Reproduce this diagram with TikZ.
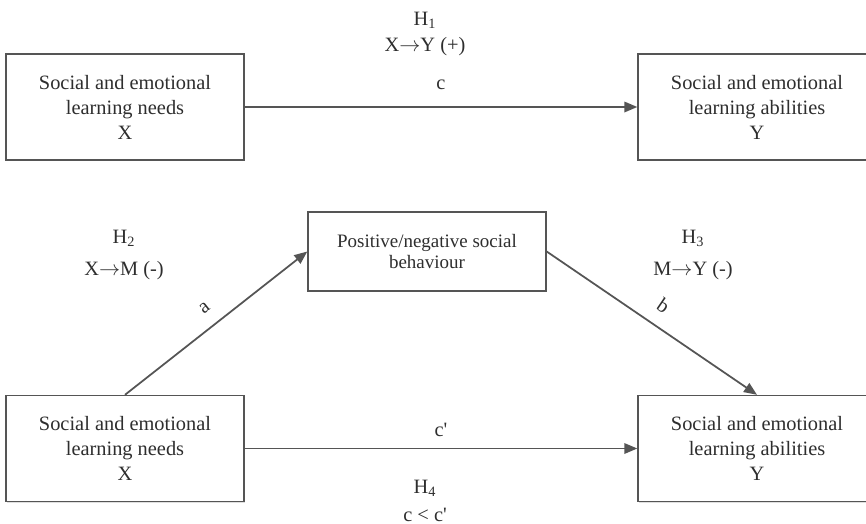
\documentclass[tikz,border=0pt]{standalone}
\usepackage{fontspec}
\setmainfont{Liberation Serif}
\usetikzlibrary{arrows.meta,positioning,shadows}

\definecolor{txtgray}{HTML}{2E2E2E}
\definecolor{linegray}{HTML}{555555}

\tikzset{
  varbox/.style={draw=linegray, line width=0.8pt, fill=white, text=txtgray,
    minimum width=4.76cm, minimum height=2.12cm, align=center,
    font=\fontsize{11.6}{14.2}\selectfont,
    drop shadow={shadow xshift=0.6pt, shadow yshift=-0.8pt, fill=black!25}},
  medbox/.style={varbox, minimum height=1.58cm, font=\fontsize{10.8}{12.5}\selectfont},
  effect/.style={draw=linegray, line width=1pt, -{Triangle[length=2.6mm, width=2.1mm]}},
  hyp/.style={text=txtgray, align=center, font=\fontsize{11.6}{14}\selectfont},
  lbl/.style={text=txtgray, font=\fontsize{11.6}{14}\selectfont}
}

\begin{document}
\begin{tikzpicture}[x=0.02cm, y=-0.02cm]
    \useasboundingbox (0,0) rectangle (866,524);

    % total effect
    \node[varbox] (needs) at (125,107) {Social and emotional\\learning needs\\X};
    \node[varbox] (abil) at (757,107) {Social and emotional\\learning abilities\\Y};
    \draw[effect] (needs) -- node[lbl, above=6pt] (c) {c} (abil);
    \node[hyp] (h1) at (425,20) {H\textsubscript{1}};
    \node[hyp] (h1txt) at (425,47) {X$\rightarrow$Y (+)};

    % mediation model
    \node[medbox] (behav) at (427,251.5) {Positive/negative social\\behaviour};
    \node[varbox] (needsb) at (125,448.5) {Social and emotional\\learning needs\\X};
    \node[varbox] (abilb) at (757,448.5) {Social and emotional\\learning abilities\\Y};

    \draw[effect] (needsb.north) -- node[lbl, sloped, above=4pt] (a) {a} (behav.west);
    \draw[effect] (behav.east) -- node[lbl, sloped, above=4pt] (b) {b} (abilb.north);
    \draw[effect] (needsb) -- node[lbl, above=3pt] (cp) {c\textquotesingle} (abilb);

    \node[hyp] (h2) at (124,238) {H\textsubscript{2}};
    \node[hyp] (h2txt) at (124,271) {X$\rightarrow$M (-)};
    \node[hyp] (h3) at (693,238) {H\textsubscript{3}};
    \node[hyp] (h3txt) at (693,271) {M$\rightarrow$Y (-)};
    \node[hyp] (h4) at (425,488) {H\textsubscript{4}};
    \node[hyp] (h4txt) at (425,515) {c < c\textquotesingle};
\end{tikzpicture}
\end{document}
